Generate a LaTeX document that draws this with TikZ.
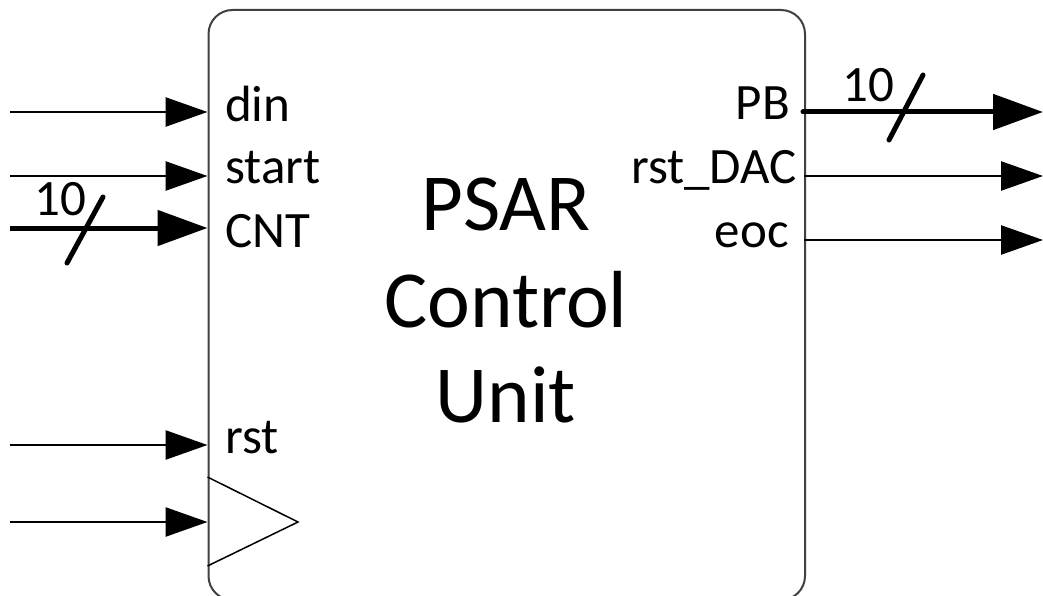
\documentclass[tikz,border=0pt]{standalone}
\usepackage{fontspec}
\setmainfont{Carlito}
\usetikzlibrary{arrows.meta}
\definecolor{frame}{HTML}{404040}
\begin{document}
\begin{tikzpicture}[x=1pt,y=-1pt,
  sig/.style={line width=2.6pt,-{Triangle[length=42pt,width=29pt]}},
  bus/.style={line width=5pt,-{Triangle[length=50pt,width=35pt]}},
  slashmark/.style={line width=5pt,line cap=round},
  portlbl/.style={font=\fontsize{51}{51}\selectfont,inner sep=0pt},
  titlelbl/.style={font=\fontsize{81}{96}\selectfont,inner sep=0pt,anchor=base},
  busw/.style={font=\fontsize{51}{51}\selectfont,inner sep=0pt,anchor=base west}]
\useasboundingbox (0,0) rectangle (1043,596);
\begin{scope}
\clip (0,0) rectangle (1043,596);
% control unit block
\node[draw=frame, line width=2pt, rounded corners=24pt, minimum width=596.5pt,
      minimum height=590pt, anchor=north west, inner sep=0pt] (cu) at (207.5,9) {};
% clock input triangle
\draw[line width=1.5pt] (207.5,477) -- (298,522) -- (207.5,566);

% title
\node[titlelbl] (t1) at (506,230) {PSAR};
\node[titlelbl] (t2) at (506,327) {Control};
\node[titlelbl] (t3) at (506,422) {Unit};

% input ports
\node[portlbl, anchor=base west] (ldin)   at (225,122) {din};
\node[portlbl, anchor=base west] (lstart) at (225,183) {start};
\node[portlbl, anchor=base west] (lcnt)   at (225,247) {CNT};
\node[portlbl, anchor=base west] (lrst)   at (225,453) {rst};

% output ports
\node[portlbl, anchor=base east] (lpb)  at (790,120) {PB};
\node[portlbl, anchor=base east] (ldac) at (797,183) {rst\_DAC};
\node[portlbl, anchor=base east] (leoc) at (789,247) {eoc};

% connector ends
\coordinate (sdin)   at (10,112);  \coordinate (pdin)   at (207.5,112);
\coordinate (sstart) at (10,176);  \coordinate (pstart) at (207.5,176);
\coordinate (scnt)   at (10,228);  \coordinate (pcnt)   at (207.5,228);
\coordinate (srst)   at (10,445);  \coordinate (prst)   at (207.5,445);
\coordinate (sclk)   at (10,522);  \coordinate (pclk)   at (207.5,522);
\coordinate (ppb)  at (803,112);   \coordinate (dpb)  at (1043,112);
\coordinate (pdac) at (804,176);   \coordinate (ddac) at (1043,176);
\coordinate (peoc) at (804,240);   \coordinate (deoc) at (1043,240);

% input connectors
\draw[sig] (sdin) -- (pdin);
\draw[sig] (sstart) -- (pstart);
\draw[bus] (scnt) -- (pcnt);
\draw[sig] (srst) -- (prst);
\draw[sig] (sclk) -- (pclk);

% output connectors
\draw[bus, line cap=round] (ppb) -- (dpb);
\draw[sig] (pdac) -- (ddac);
\draw[sig] (peoc) -- (deoc);

% bus width marks
\draw[slashmark] (67,263) -- (103,197);
\node[busw] (wcnt) at (34,215) {10};
\draw[slashmark] (889,140) -- (923,75);
\node[busw] (wpb) at (842,102) {10};
\end{scope}
\end{tikzpicture}
\end{document}
